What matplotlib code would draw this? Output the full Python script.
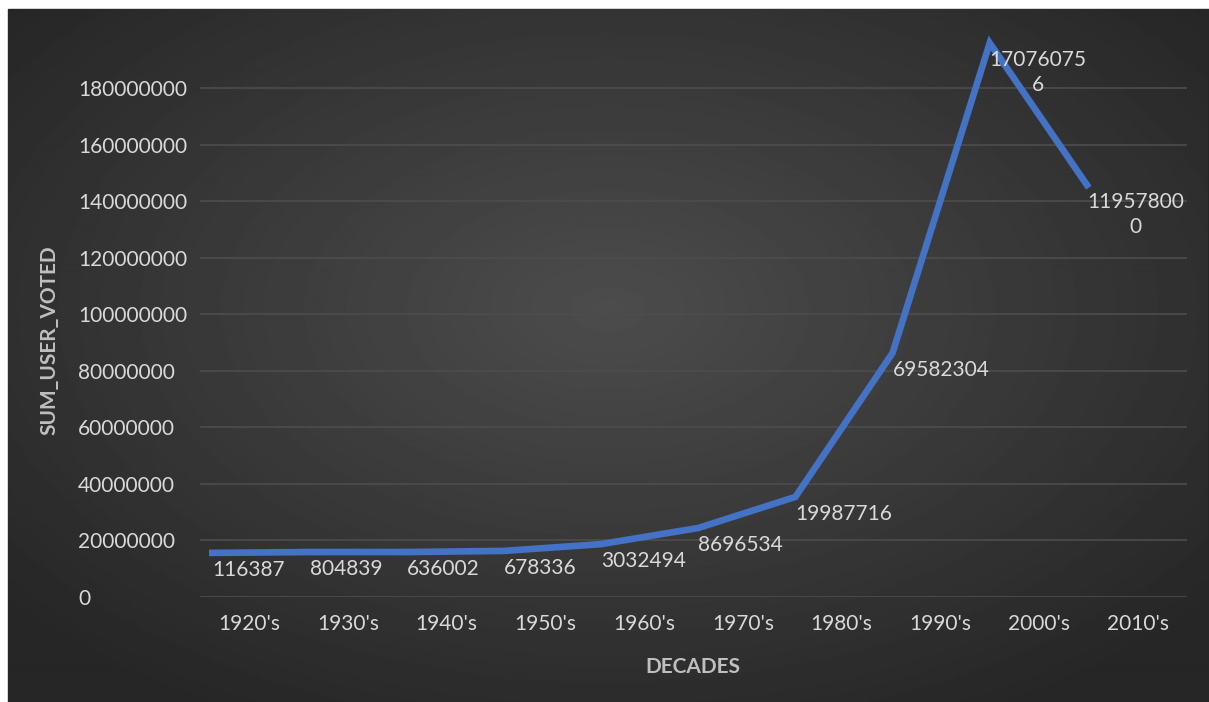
import numpy as np
import matplotlib
matplotlib.use('Agg')
import matplotlib.pyplot as plt
from matplotlib.patches import Rectangle

decades = ["1920's", "1930's", "1940's", "1950's", "1960's",
           "1970's", "1980's", "1990's", "2000's", "2010's"]
# values shown in the data labels
label_values = [116387, 804839, 636002, 678336, 3032494,
                8696534, 19987716, 69582304, 170760756, 119578000]
# height of the drawn line
line_values = [15.6e6, 15.9e6, 15.9e6, 16.3e6, 18.7e6,
               24.4e6, 35.4e6, 86.3e6, 195.9e6, 145.7e6]
yticks = [0, 20000000, 40000000, 60000000, 80000000, 100000000,
          120000000, 140000000, 160000000, 180000000]

W, H = 1209, 702
plt.rcParams['font.family'] = ['Lato', 'DejaVu Sans']
txt = '#d9d9d9'

fig = plt.figure(figsize=(W / 100, H / 100), dpi=100)
fig.patch.set_facecolor('white')
fig.patches.append(Rectangle((8 / W, -0.05), 1.0, 693 / H + 0.05,
                             transform=fig.transFigure, color='#262626', zorder=-5))

# dark radial gradient background
bg = fig.add_axes([8 / W, -0.02, 1200 / W, 693 / H + 0.02])
gx, gy = np.meshgrid(np.linspace(-1, 1, 600), np.linspace(-1, 1, 350))
r = np.sqrt((gx * 0.95) ** 2 + ((gy + 0.15) * 0.95) ** 2)
shade = 0.30 - 0.15 * np.clip(r, 0, 1.25) / 1.25
bg.imshow(shade, cmap='gray', vmin=0, vmax=1, aspect='auto', extent=(0, 1, 0, 1))
bg.axis('off')

left, right = 200 / W, 1187 / W
bottom = 1 - 597 / H
top = 1 - 31.4 / H
ax = fig.add_axes([left, bottom, right - left, top - bottom])
ax.set_facecolor('none')
x = np.arange(len(decades))
ax.set_xlim(-0.5, len(decades) - 0.5)
ax.set_ylim(0, 200000000)
ax.set_xticks(x)
ax.set_xticklabels(decades, color=txt, fontsize=15)
ax.set_yticks(yticks)
ax.set_yticklabels([str(v) for v in yticks], color=txt, fontsize=15)
ax.tick_params(axis='y', length=0, pad=87.8)
ax.tick_params(axis='x', length=0, pad=12)
for t in ax.get_yticklabels():
    t.set_ha('left')
ax.grid(axis='y', color='#4d4d4d', linewidth=1.2)
ax.set_axisbelow(True)
for s in ax.spines.values():
    s.set_visible(False)

# the line sits on its own (secondary) horizontal scale
ax2 = ax.twiny()
ax2.set_xlim(-0.127, 10.03)
ax2.set_ylim(0, 200000000)
ax2.axis('off')
ax2.plot(x, line_values, color='#4472c4', linewidth=4.8, solid_joinstyle='miter')

for i, (v, lv) in enumerate(zip(line_values, label_values)):
    s = str(lv)
    if len(s) > 8:
        s = s[:8] + '\n' + s[8:]
    ax2.annotate(s, (i, v), xytext=(0, -5), textcoords='offset points',
                 ha='left', va='top', multialignment='center',
                 color=txt, fontsize=15, linespacing=1.3)

fig.text(693 / W, 1 - 667 / H, 'DECADES', color='#bfbfbf', fontsize=15,
         fontweight='bold', ha='center', va='center')
fig.text(49 / W, 1 - 340 / H, 'SUM_USER_VOTED', color='#bfbfbf', fontsize=15,
         fontweight='bold', ha='center', va='center', rotation=90)

fig.savefig('out.png', dpi=100, facecolor=fig.get_facecolor())
